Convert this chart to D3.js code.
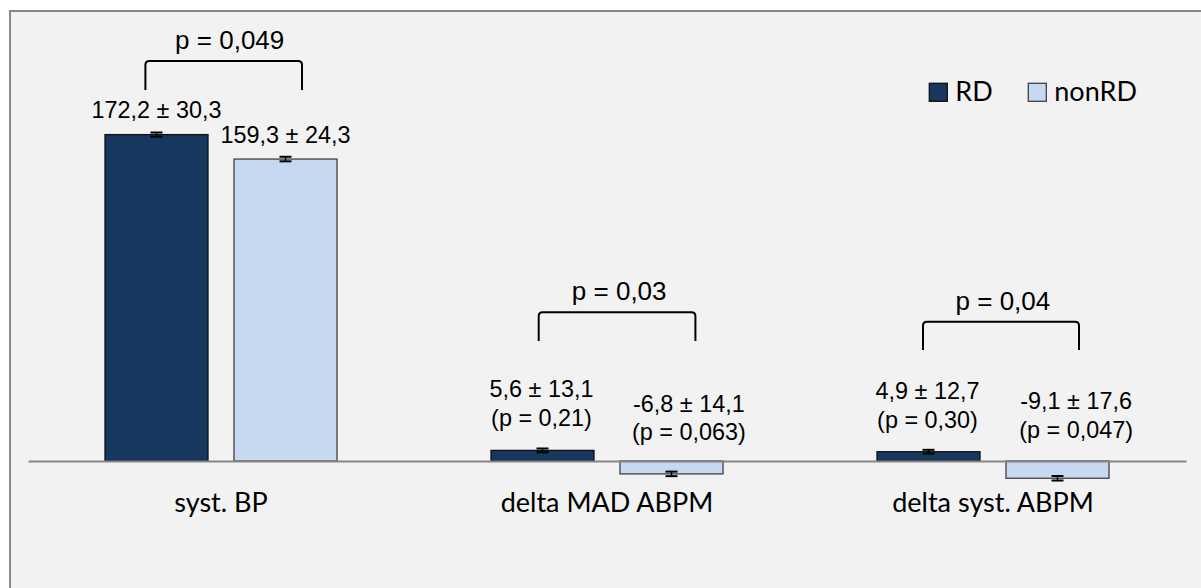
<!DOCTYPE html>
<html>
<head>
<meta charset="utf-8">
<script src="https://cdn.jsdelivr.net/npm/d3@7"></script>
<style>
  html, body { margin: 0; padding: 0; background: #ffffff; }
  svg { display: block; }
</style>
</head>
<body>
<svg id="chart" width="1201" height="588"></svg>
<script>
// ---- data ----
const categories = ["syst. BP", "delta MAD ABPM", "delta syst. ABPM"];
const seriesNames = ["RD", "nonRD"];

const rdMean = [172.2, 5.6, 4.9];
const rdSD = [30.3, 13.1, 12.7];
const rdErr = [1.1, 1.0, 1.0];
const rdWithinP = [null, "0,21", "0,30"];

const nonRdMean = [159.3, -6.8, -9.1];
const nonRdSD = [24.3, 14.1, 17.6];
const nonRdErr = [1.2, 1.2, 1.2];
const nonRdWithinP = [null, "0,063", "0,047"];

const betweenP = ["0,049", "0,03", "0,04"];

// ---- presentation ----
const colors = { RD: "#17375e", nonRD: "#c6d9f1" };
const borders = { RD: "#111111", nonRD: "#404040" };
const labelFont = "'Liberation Sans', Arial, sans-serif";
const catFont = "Lato, 'Open Sans', sans-serif";

// per-label nudges (px) for the value annotations: [dx, dy of last line from anchor]
const labelNudge = {
  RD: [[0, -16.4], [-1, -24.7], [-1, -24]],
  nonRD: [[0, -16.3], [17.4, -21], [18.6, -23.3]]
};
// bracket geometry relative to group centre (px)
const bracketLayout = [
  { left: -75.6, right: 81, top: 61, bottom: 90, textDx: 8.7 },
  { left: -68.3, right: 88.4, top: 312.3, bottom: 341, textDx: 12.2 },
  { left: -70, right: 86, top: 321.7, bottom: 350, textDx: 9.9 }
];

const rows = categories.map((c, i) => ({
  category: c,
  values: [
    { series: "RD", mean: rdMean[i], sd: rdSD[i], err: rdErr[i], p: rdWithinP[i], idx: i },
    { series: "nonRD", mean: nonRdMean[i], sd: nonRdSD[i], err: nonRdErr[i], p: nonRdWithinP[i], idx: i }
  ]
}));

const locale = d3.formatLocale({ decimal: ",", thousands: ".", grouping: [3], currency: ["", ""], minus: "-" });
const f1 = locale.format(".1f");

const svg = d3.select("#chart");

// chart area frame
svg.append("rect")
  .attr("x", 10).attr("y", 11)
  .attr("width", 1220).attr("height", 600)
  .attr("fill", "#f2f2f2")
  .attr("stroke", "#888888")
  .attr("stroke-width", 2);

// scales
const x0 = d3.scaleBand().domain(categories).range([28, 1186]).paddingInner(0).paddingOuter(0);
const x1 = d3.scaleBand().domain(seriesNames).range([0, x0.bandwidth()])
  .paddingInner(26 / 129).paddingOuter(77 / 129);
const y = d3.scaleLinear().domain([-40, 180]).range([536.82, 119.81]);

// bars
const groups = svg.append("g").selectAll("g")
  .data(rows).join("g")
  .attr("transform", d => `translate(${x0(d.category)},0)`);

groups.selectAll("rect")
  .data(d => d.values).join("rect")
  .attr("x", d => x1(d.series))
  .attr("y", d => y(Math.max(0, d.mean)))
  .attr("width", x1.bandwidth())
  .attr("height", d => Math.abs(y(d.mean) - y(0)))
  .attr("fill", d => colors[d.series])
  .attr("stroke", d => borders[d.series])
  .attr("stroke-width", 1.3);

// error bars
const eb = groups.selectAll("g.err")
  .data(d => d.values).join("g").attr("class", "err")
  .attr("transform", d => `translate(${x1(d.series) + x1.bandwidth() / 2},0)`);
eb.append("line")
  .attr("x1", 0).attr("x2", 0)
  .attr("y1", d => y(d.mean - d.err)).attr("y2", d => y(d.mean + d.err))
  .attr("stroke", "#000").attr("stroke-width", 1.5);
eb.selectAll("line.cap")
  .data(d => [d.mean - d.err, d.mean + d.err]).join("line").attr("class", "cap")
  .attr("x1", -6).attr("x2", 6)
  .attr("y1", v => y(v)).attr("y2", v => y(v))
  .attr("stroke", "#000").attr("stroke-width", 2);

// axis
const axis = svg.append("g")
  .attr("transform", `translate(0,${y(0)})`)
  .call(d3.axisBottom(x0).tickSize(0).tickSizeOuter(0).tickPadding(0));
axis.select(".domain").attr("stroke", "#868686").attr("stroke-width", 2);
axis.selectAll(".tick text")
  .attr("dy", 0).attr("y", 51)
  .attr("fill", "#000")
  .style("font-family", catFont)
  .style("font-size", "27px");

// value annotations
groups.each(function (row) {
  const g = d3.select(this);
  row.values.forEach(v => {
    const nudge = labelNudge[v.series][v.idx];
    const cx = x1(v.series) + x1.bandwidth() / 2 + nudge[0];
    const anchorY = (v.mean >= 0 ? y(v.mean) : y(0)) + nudge[1];
    const lines = [`${f1(v.mean)} ± ${f1(v.sd)}`];
    if (v.p) lines.push(`(p = ${v.p})`);
    const lh = 28.4;
    lines.forEach((t, k) => {
      g.append("text")
        .attr("x", cx)
        .attr("y", anchorY - (lines.length - 1 - k) * lh)
        .attr("text-anchor", "middle")
        .style("font-family", labelFont)
        .style("font-size", "23.4px")
        .attr("fill", "#000")
        .text(t);
    });
  });
});

// significance brackets between groups
rows.forEach((row, i) => {
  const b = bracketLayout[i];
  const gc = x0(row.category) + x0.bandwidth() / 2;
  const xl = gc + b.left, xr = gc + b.right, r = 4;
  svg.append("path")
    .attr("d", `M${xl},${b.bottom} L${xl},${b.top + r} Q${xl},${b.top} ${xl + r},${b.top} L${xr - r},${b.top} Q${xr},${b.top} ${xr},${b.top + r} L${xr},${b.bottom}`)
    .attr("fill", "none").attr("stroke", "#000").attr("stroke-width", 2);
  svg.append("text")
    .attr("x", gc + b.textDx)
    .attr("y", b.top - 12)
    .attr("text-anchor", "middle")
    .style("font-family", labelFont)
    .style("font-size", "26px")
    .attr("fill", "#000")
    .text(`p = ${betweenP[i]}`);
});

// legend
const legend = svg.append("g").attr("transform", "translate(929.3,83.3)");
const legendX = { RD: 0, nonRD: 99 };
seriesNames.forEach(s => {
  const lg = legend.append("g").attr("transform", `translate(${legendX[s]},0)`);
  lg.append("rect").attr("width", 18).attr("height", 18)
    .attr("fill", colors[s]).attr("stroke", borders[s]).attr("stroke-width", 1.3);
  lg.append("text").attr("x", 26).attr("y", 18)
    .style("font-family", catFont).style("font-size", "27px")
    .attr("fill", "#000").text(s);
});
</script>
</body>
</html>
